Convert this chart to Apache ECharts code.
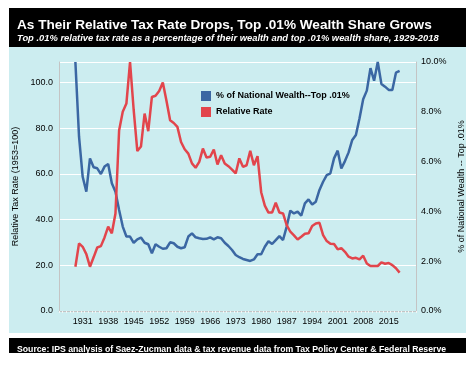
<!DOCTYPE html>
<html>
<head>
<meta charset="utf-8">
<script src="https://cdn.jsdelivr.net/npm/echarts@6/dist/echarts.min.js"></script>
<style>
html,body{margin:0;padding:0;background:#fff;}
#chart{width:475px;height:365px;}
</style>
</head>
<body>
<div id="chart"></div>
<script>
// Axis categories: years shown on the category axis (extra padding years have no data)
const axisStartYear = 1925;
const axisEndYear = 2022;
const dataStartYear = 1929;
const tickLabels = ['1931','1938','1945','1952','1959','1966','1973','1980','1987','1994','2001','2008','2015'];
const leftTicks = [0, 20, 40, 60, 80, 100];
const rightTicks = [0, 2, 4, 6, 8, 10];

// Relative Rate (1953=100), 1929-2018
const relativeRate = [
  19.4, 29.6, 28.1, 24.9, 19.4, 23.5, 27.8, 28.4, 32.2, 36.9,
  34.0, 42.7, 79, 87.2, 90.8, 109, 88, 70, 72, 86.4,
  78.7, 93.7, 94.2, 96.3, 100, 92, 83.5, 82.3, 80.6, 74,
  70.8, 68.9, 64.6, 62.7, 65.3, 71.1, 67.2, 67.5, 70.7, 64.1,
  68.2, 64.6, 63.4, 61.9, 60.2, 66.8, 63.1, 63.8, 70.1, 63.8,
  67.8, 52, 46.1, 43.1, 43.1, 47.4, 43.1, 42.7, 37.6, 34.7,
  33.1, 31.3, 32.5, 33.8, 34.0, 37.2, 38.3, 38.6, 33.2, 30.6,
  29.4, 29.3, 27.0, 27.5, 25.9, 23.8, 23.0, 23.3, 22.6, 24.2,
  20.8, 19.7, 19.7, 19.7, 21.3, 20.7, 21.0, 20.1, 18.7, 16.8
];

// % of National Wealth -- Top .01%, 1929-2018
const wealthShare = [
  10.0, 7.0, 5.39, 4.79, 6.13, 5.77, 5.73, 5.50, 5.80, 5.90,
  5.13, 4.79, 4.06, 3.39, 2.99, 2.99, 2.74, 2.88, 2.95, 2.74,
  2.68, 2.32, 2.68, 2.58, 2.50, 2.52, 2.76, 2.72, 2.58, 2.52,
  2.56, 2.99, 3.12, 2.96, 2.92, 2.89, 2.90, 2.96, 2.88, 2.96,
  2.92, 2.74, 2.61, 2.45, 2.25, 2.16, 2.09, 2.05, 2.01, 2.07,
  2.28, 2.28, 2.58, 2.80, 2.69, 2.85, 3.01, 2.85, 3.39, 4.03,
  3.92, 3.99, 3.83, 4.32, 4.48, 4.28, 4.39, 4.86, 5.19, 5.46,
  5.53, 6.13, 6.44, 5.72, 6.02, 6.37, 6.87, 7.07, 7.74, 8.50,
  8.85, 9.75, 9.25, 10.0, 9.12, 9.01, 8.88, 8.88, 9.57, 9.64
];

const years = [];
for (let y = axisStartYear; y <= axisEndYear; y++) years.push(String(y));
function pad(arr) {
  const out = years.map(() => null);
  arr.forEach((v, i) => { out[i + (dataStartYear - axisStartYear)] = v; });
  return out;
}

const FONT = '"Liberation Sans", Arial, sans-serif';
const chart = echarts.init(document.getElementById('chart'), null, {renderer: 'canvas'});
chart.setOption({
  backgroundColor: '#ffffff',
  animation: false,
  graphic: [
    {type: 'rect', z: -10, shape: {x: 9, y: 8, width: 457, height: 39}, style: {fill: '#000000'}},
    {type: 'rect', z: -10, shape: {x: 9, y: 47, width: 457, height: 286}, style: {fill: '#ccedf0'}},
    {type: 'rect', z: -10, shape: {x: 9, y: 338, width: 457, height: 15}, style: {fill: '#000000'}}
  ],
  title: [
    {text: 'As Their Relative Tax Rate Drops, Top .01% Wealth Share Grows', left: 12, top: 13,
     textStyle: {color: '#fff', fontSize: 13.6, fontWeight: 'bold', fontFamily: FONT}},
    {text: 'Top .01% relative tax rate as a percentage of their wealth and top .01% wealth share, 1929-2018', left: 12, top: 29,
     textStyle: {color: '#fff', fontSize: 9.4, fontWeight: 'bold', fontStyle: 'italic', fontFamily: FONT}},
    {text: 'Source: IPS analysis of Saez-Zucman data & tax revenue data from Tax Policy Center & Federal Reserve', left: 12, top: 340,
     textStyle: {color: '#fff', fontSize: 8.7, fontWeight: 'bold', fontFamily: FONT}}
  ],
  legend: {
    orient: 'vertical', left: 196, top: 86, itemWidth: 10, itemHeight: 10, itemGap: 6,
    icon: 'rect',
    textStyle: {fontSize: 9, fontWeight: 'bold', color: '#000', fontFamily: FONT},
    data: ['% of National Wealth--Top .01%', 'Relative Rate']
  },
  grid: {left: 59, right: 59, top: 62, bottom: 54},
  xAxis: {
    type: 'category', data: years, boundaryGap: true,
    axisLine: {lineStyle: {color: '#c4c4c4', width: 1}},
    axisTick: {show: true, interval: 0, length: 2, lineStyle: {color: '#f4f4f4'}},
    axisLabel: {interval: (i, v) => tickLabels.includes(v), color: '#000', fontSize: 9, fontFamily: FONT, margin: 6},
    splitLine: {show: false}
  },
  yAxis: [
    {
      type: 'value', min: 0, max: 109, interval: 20,
      name: 'Relative Tax Rate (1953=100)', nameLocation: 'middle', nameGap: 36, nameRotate: 90,
      nameTextStyle: {fontSize: 9, color: '#000', fontFamily: FONT},
      axisLine: {show: true, lineStyle: {color: '#c4c4c4'}},
      axisTick: {show: false},
      axisLabel: {showMaxLabel: false, color: '#000', fontSize: 9, fontFamily: FONT, margin: 6,
        formatter: v => leftTicks.includes(v) ? v.toFixed(1) : ''},
      splitLine: {show: true, lineStyle: {color: '#ffffff', width: 1}}
    },
    {
      type: 'value', min: 0, max: 10, interval: 2,
      name: '% of National Wealth -- Top .01%', nameLocation: 'middle', nameGap: 38, nameRotate: 90,
      nameTextStyle: {fontSize: 9, color: '#000', fontFamily: FONT, verticalAlign: 'bottom'},
      axisLine: {show: true, lineStyle: {color: '#c4c4c4'}},
      axisTick: {show: false},
      axisLabel: {color: '#000', fontSize: 9, fontFamily: FONT, margin: 5,
        formatter: v => rightTicks.includes(v) ? v.toFixed(1) + '%' : ''},
      splitLine: {show: false}
    }
  ],
  series: [
    {name: '% of National Wealth--Top .01%', type: 'line', yAxisIndex: 1, data: pad(wealthShare),
     symbol: 'none', connectNulls: false, lineStyle: {color: '#3b67a3', width: 2.5}, itemStyle: {color: '#3b67a3'}},
    {name: 'Relative Rate', type: 'line', yAxisIndex: 0, data: pad(relativeRate),
     symbol: 'none', connectNulls: false, lineStyle: {color: '#e2454c', width: 2.5}, itemStyle: {color: '#e2454c'}}
  ]
});
</script>
</body>
</html>
